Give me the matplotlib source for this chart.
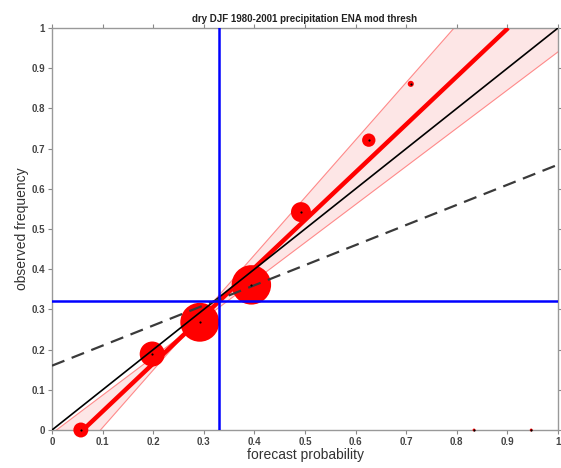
import numpy as np
import matplotlib
matplotlib.use("Agg")
import matplotlib.pyplot as plt
from matplotlib.ticker import FuncFormatter

plt.rcParams['font.family'] = ['Liberation Sans', 'DejaVu Sans']

# ---- data ----
title = "dry DJF 1980-2001 precipitation ENA mod thresh"
forecast_prob = [0.057, 0.198, 0.292, 0.394, 0.492, 0.626, 0.709, 0.834, 0.947]
observed_freq = [0.0, 0.189, 0.268, 0.361, 0.542, 0.721, 0.861, 0.0, 0.0]
n_cases = [54, 151, 365, 375, 96, 43, 9, 2, 2]  # relative bin populations (bubble area)

climatology_obs = 0.32      # horizontal blue line
climatology_fc = 0.33       # vertical blue line

# regression (reliability) line and its uncertainty wedge
pivot_x, pivot_y = 0.267, 0.245
slope_fit = 1.19
slope_lo, slope_hi = 0.949, 1.431

ticks = [0, 0.1, 0.2, 0.3, 0.4, 0.5, 0.6, 0.7, 0.8, 0.9, 1]

# ---- figure ----
fig = plt.figure(figsize=(5.61, 4.68), dpi=100)
ax = fig.add_axes([0.0927, 0.0812, 0.902, 0.859])
ax.set_xlim(0, 1)
ax.set_ylim(0, 1)

xx = np.linspace(0, 1, 401)
l1 = pivot_y + slope_lo * (xx - pivot_x)
l2 = pivot_y + slope_hi * (xx - pivot_x)
upper = np.maximum(l1, l2)
lower = np.minimum(l1, l2)
ax.fill_between(xx, lower, upper, color="#fde6e6", lw=0, zorder=1)
ax.plot(xx, l1, color="#ff8a8a", lw=0.8, zorder=2)
ax.plot(xx, l2, color="#ff8a8a", lw=0.8, zorder=2)

# bubbles
sizes = np.array(n_cases, dtype=float) * 2.15
ax.scatter(forecast_prob, observed_freq, s=sizes, color="#ff0000", lw=0,
           zorder=3, clip_on=False)

# fitted line (within y in [0,1])
x_start = pivot_x - pivot_y / slope_fit
x_end = pivot_x + (1 - pivot_y) / slope_fit
xf = np.array([x_start, x_end])
ax.plot(xf, pivot_y + slope_fit * (xf - pivot_x), color="#ff0000", lw=3.2,
        solid_capstyle="butt", zorder=4)

# perfect reliability diagonal
ax.plot([0, 1], [0, 1], color="black", lw=1.2, zorder=5)
# no-skill line
ax.plot([0, 1], [climatology_obs / 2, (1 + climatology_obs) / 2],
        color="#3a3a3a", lw=1.6, dashes=(6, 3.5), zorder=5)

# climatology lines
ax.axvline(climatology_fc, color="#0000ff", lw=1.8, zorder=6)
ax.axhline(climatology_obs, color="#0000ff", lw=1.8, zorder=6)

ax.scatter(forecast_prob, observed_freq, s=2.5, color="black", lw=0, zorder=7,
           clip_on=False)

# axes styling
fmt = FuncFormatter(lambda v, p: "%g" % v)
ax.set_xticks(ticks)
ax.set_yticks(ticks)
ax.xaxis.set_major_formatter(fmt)
ax.yaxis.set_major_formatter(fmt)
ax.tick_params(direction="out", length=3, width=0.8, colors="#888888",
               labelcolor="#444444", labelsize=7, top=True, right=True,
               labeltop=False, labelright=False, pad=2)
for lab in ax.get_xticklabels() + ax.get_yticklabels():
    lab.set_fontweight("bold")
for sp in ax.spines.values():
    sp.set_color("#999999")
    sp.set_linewidth(1.0)

ax.set_xlabel("forecast probability", fontsize=10, color="#333333", labelpad=1)
ax.set_ylabel("observed frequency", fontsize=10, color="#333333", labelpad=2)
ax.set_title(title, fontsize=7, fontweight="bold", color="#222222", pad=4)

fig.savefig("out.png", dpi=100)
